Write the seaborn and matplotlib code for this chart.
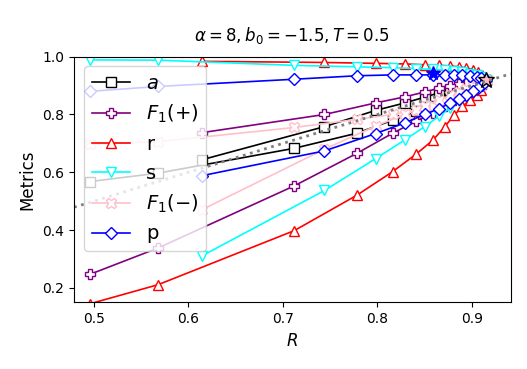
import numpy as np
import pandas as pd
import seaborn as sns
import matplotlib
matplotlib.use("Agg")
import matplotlib.pyplot as plt

# R values of the two threshold sweeps (lower-left branch A, upper branch B)
R_A = [0.496, 0.568, 0.712, 0.778, 0.816, 0.841, 0.859, 0.871, 0.881, 0.890, 0.898, 0.905, 0.910, 0.915]
R_B = [0.614, 0.744, 0.798, 0.829, 0.850, 0.865, 0.877, 0.886, 0.894, 0.901, 0.906, 0.911, 0.915]

a_A = [0.568, 0.597, 0.683, 0.735, 0.780, 0.811, 0.830, 0.848, 0.862, 0.875, 0.886, 0.897, 0.906, 0.920]
a_B = [0.643, 0.758, 0.814, 0.840, 0.860, 0.875, 0.886, 0.895, 0.902, 0.908, 0.912, 0.916, 0.920]
f1p_A = [0.247, 0.338, 0.553, 0.665, 0.735, 0.777, 0.806, 0.830, 0.850, 0.866, 0.880, 0.892, 0.902, 0.920]
f1p_B = [0.737, 0.800, 0.840, 0.861, 0.878, 0.891, 0.898, 0.904, 0.909, 0.912, 0.915, 0.917, 0.920]
r_A = [0.145, 0.211, 0.398, 0.520, 0.602, 0.663, 0.712, 0.757, 0.797, 0.828, 0.851, 0.869, 0.885, 0.920]
r_B = [0.984, 0.980, 0.977, 0.975, 0.972, 0.970, 0.968, 0.965, 0.961, 0.955, 0.948, 0.938, 0.920]
s_A = [0.989, 0.988, 0.970, 0.965, 0.962, 0.959, 0.956, 0.953, 0.950, 0.946, 0.941, 0.935, 0.929, 0.920]
s_B = [0.310, 0.537, 0.647, 0.712, 0.758, 0.794, 0.823, 0.846, 0.865, 0.881, 0.895, 0.905, 0.920]
f1n_A = [0.697, 0.706, 0.755, 0.783, 0.800, 0.815, 0.830, 0.845, 0.858, 0.870, 0.880, 0.892, 0.902, 0.920]
f1n_B = [0.470, 0.680, 0.760, 0.800, 0.830, 0.850, 0.866, 0.878, 0.888, 0.897, 0.905, 0.912, 0.920]
p_A = [0.880, 0.897, 0.922, 0.934, 0.937, 0.937, 0.937, 0.937, 0.936, 0.935, 0.933, 0.930, 0.927, 0.920]
p_B = [0.588, 0.674, 0.734, 0.771, 0.800, 0.820, 0.840, 0.855, 0.868, 0.880, 0.892, 0.903, 0.920]

star_blue = (0.859, 0.943)
star_tip = (0.915, 0.920)

series = [
    ("$a$", a_A, a_B, "black", "s"),
    ("$F_1(+)$", f1p_A, f1p_B, "purple", "P"),
    ("r", r_A, r_B, "red", "^"),
    ("s", s_A, s_B, "cyan", "v"),
    ("$F_1(-)$", f1n_A, f1n_B, "pink", "X"),
    ("p", p_A, p_B, "blue", "D"),
]

fig = plt.figure(figsize=(5.27, 3.69), dpi=100)
ax = fig.add_axes([74 / 527, 1 - 302.3 / 369, (510.7 - 74) / 527, (302.3 - 56.7) / 369])

for label, yA, yB, col, mk in series:
    df = pd.DataFrame({"R": R_A + R_B[::-1][1:], "v": yA + yB[::-1][1:]})
    ms = 6.5 if mk == "D" else 7.5
    sns.lineplot(data=df, x="R", y="v", sort=False, estimator=None, ax=ax,
                 color=col, marker=mk, markersize=ms, markerfacecolor="white",
                 markeredgecolor=col, markeredgewidth=1, linewidth=1.2, label=label)

ax.plot([star_blue[0]], [star_blue[1]], marker="*", color="blue", markersize=10, linestyle="none")
ax.plot([star_tip[0]], [star_tip[1]], marker="*", markerfacecolor="pink", markeredgecolor="black",
        markersize=12, linestyle="none")

ax.axline((0, 0), (1, 1), color="gray", linestyle=":", linewidth=2)
ax.set_xlim(0.479, 0.941)
ax.set_ylim(0.15, 1.0)

ax.set_xlabel("$R$", fontsize=12)
ax.set_ylabel("Metrics", fontsize=12)
ax.set_title(r"$\alpha = 8, b_0 = -1.5, T = 0.5$", fontsize=12, pad=11)
ax.legend(loc="upper left", fontsize=14)

fig.savefig("out.png", dpi=100)
